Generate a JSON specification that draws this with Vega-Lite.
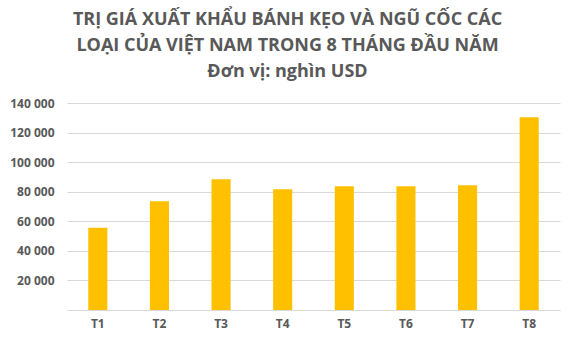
{
  "$schema": "https://vega.github.io/schema/vega-lite/v6.json",
  "width": 493,
  "height": 207,
  "autosize": {"type": "none"},
  "padding": {"left": 67, "top": 103, "right": 14, "bottom": 36},
  "background": "white",
  "title": {
    "text": ["TRỊ GIÁ XUẤT KHẨU BÁNH KẸO VÀ NGŨ CỐC CÁC", "LOẠI CỦA VIỆT NAM TRONG 8 THÁNG ĐẦU NĂM", "Đơn vị: nghìn USD"],
    "font": "Open Sans",
    "fontSize": 18,
    "fontWeight": "bold",
    "color": "#595959",
    "lineHeight": 26,
    "anchor": "middle",
    "dx": -26,
    "offset": 16
  },
  "config": {
    "view": {"stroke": null},
    "locale": {"number": {"decimal": ",", "thousands": " ", "grouping": [3], "currency": ["", ""]}}
  },
  "data": {
    "values": [
      {"month": "T1", "value": 55600},
      {"month": "T2", "value": 73600},
      {"month": "T3", "value": 88500},
      {"month": "T4", "value": 81700},
      {"month": "T5", "value": 83700},
      {"month": "T6", "value": 83700},
      {"month": "T7", "value": 84400},
      {"month": "T8", "value": 130300}
    ]
  },
  "mark": {"type": "bar", "color": "#FFC000"},
  "encoding": {
    "x": {
      "field": "month",
      "type": "nominal",
      "scale": {"paddingInner": 0.69, "paddingOuter": 0.345},
      "axis": {
        "title": null,
        "labelAngle": 0,
        "labelFont": "Open Sans",
        "labelFontSize": 12,
        "labelFontWeight": "bold",
        "labelColor": "#595959",
        "labelPadding": 8,
        "ticks": false,
        "domainColor": "#d9d9d9",
        "domainWidth": 1
      }
    },
    "y": {
      "field": "value",
      "type": "quantitative",
      "scale": {"domain": [0, 140000], "nice": false},
      "axis": {
        "title": null,
        "values": [0, 20000, 40000, 60000, 80000, 100000, 120000, 140000],
        "format": ",d",
        "labelExpr": "datum.value == 0 ? '' : datum.label",
        "labelFont": "Open Sans",
        "labelFontSize": 12,
        "labelFontWeight": "bold",
        "labelColor": "#595959",
        "labelPadding": 13,
        "ticks": false,
        "domain": false,
        "gridColor": "#d9d9d9",
        "gridWidth": 1
      }
    }
  }
}
